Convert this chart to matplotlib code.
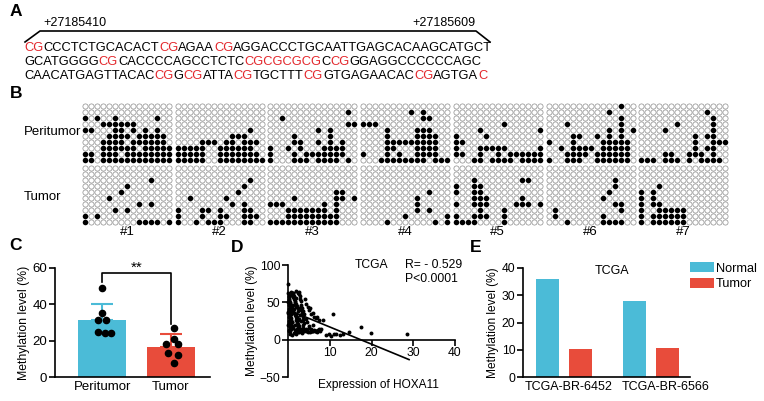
import numpy as np
import matplotlib.pyplot as plt

plt.rcParams['font.family'] = ['Liberation Sans', 'DejaVu Sans']
plt.rcParams['font.size'] = 9

BLUE = '#4bbbd7'
RED = '#e84c3b'
CPG_RED = '#e3262b'

# ---- A: sequence (lower case = CpG, drawn red)
seq_lines = [
    'cgCCCTCTGCACACTcgAGAAcgAGGACCCTGCAATTGAGCACAAGCATGCT',
    'GCATGGGGcgCACCCCAGCCTCTCcgcgcgcgCcgGGAGGCCCCCCAGC',
    'CAACATGAGTTACACcgGcgATTAcgTGCTTTcgGTGAGAACACcgAGTGAc',
]
pos_start = '+27185410'
pos_end = '+27185609'

# ---- B: bisulfite clones, x = methylated CpG
P1 = ['...............', '...............', 'x.x..x......x..', '...xxxxxx......', 'xx...xx.x.x.x..',
      '....xxxx.xxxxx.', '...xxxx.xxxxxx.', '...xxxxxx.xxxxx', 'xx.xxx.xxxxxxxx', 'xx.xxxxxxxxxxxx']
T1 = ['...............', '...............', '...........x...', '.......x.......', '......x........',
      '....x..........', '.........x.x...', '.....x.x.......', 'x.x............', 'x........xxxx.x']
P2 = ['...............', '...............', '...............', '...............', '............x..',
      '.........xxx...', '....xxx.xx.xxx.', 'xxxxx..xxxxxx..', 'xxxxx..xxxxxxx.', 'xxxxx..xxxxxxxx']
T2 = ['...............', '...............', '............x..', '...........x...', '..........x....',
      '..x.....x......', '.........x.x...', 'x...xx.x...xx..', 'x...x..xx..xxx.', 'x..x.xxx...xx..']
P3 = ['...............', '.............x.', '..x............', '.............xx', '........x.x....',
      '....x.....x....', '....xx..x.x.x..', 'x..x.x...xxxx..', 'x...x.xxxxxxx..', 'x...xxx.xxxx.x.']
T3 = ['...............', '...............', '...............', '...............', '...........xx..',
      '....x......xx.x', 'xxx......x.x...', '...xxxxxxx.x...', '...xxxxxxxxx...', 'xxxxxxxxxxxx...']
P4 = ['...............', '........x.x....', '..........xx...', 'xxx............', '....x....xxx...',
      '....x....xxxx..', '....xxxxxxxxx..', '....xx...xxxx..', 'x...x.x..xxxx..', '...xxxxxxxx.xxx']
T4 = ['...............', '...............', '...............', '...............', '...........x...',
      '.........x.....', '.........x.....', '.........x.x...', '.......x......x', '....x.......x.x']
P5 = ['...............', '...............', '...............', '........x......', '....x.........x',
      'x....x.........', 'xx.............', 'x...xxxxx.....x', 'xx..x..x.xxxxxx', '...xx.xxxx.xxxx']
T5 = ['...............', '...............', '...x.......xx..', 'x..xx..........', 'x..xx..........',
      '...xxx.....x...', 'x..xxx....xxx.x', '....x...x......', 'x..xxx..x......', 'xxxx....x......']
P6 = ['............x..', '..........x....', '............x..', '...x........x..', '..........x.x.x',
      '....xx..x.x.x..', 'x...x....xxxxx.', '..x.xxxx.xxxxx.', '...xxxx.xxxxxx.', 'x..xxx..xxxxxx.']
T6 = ['...............', '...............', '...........x...', '...........x...', '..........x....',
      '.........x.....', '...........xx..', '.x..........x..', '.x.......x.....', '...x.....xxxx..']
P7 = ['...............', '...........x...', '............x..', '......x.....x..', '....x.......x..',
      '.........x.xx..', '.........x..xxx', '.........x.xx..', '....xx..xxx.x..', 'xxx.xxx.x.xxxx.']
T7 = ['...............', '...............', '...............', '...x...........', 'x.x............',
      'x.x............', 'x.xx...........', 'x..xxxxx.......', 'x.xxxxxx.......', 'x.xxxxxx.......']
peritumor_clones = [P1, P2, P3, P4, P5, P6, P7]
tumor_clones = [T1, T2, T3, T4, T5, T6, T7]
sample_labels = ['#1', '#2', '#3', '#4', '#5', '#6', '#7']

# ---- C
c_groups = ['Peritumor', 'Tumor']
c_peri = [49, 35, 31.5, 31.5, 25, 24, 24]
c_tumor = [27, 21, 18, 18, 13, 12, 7.5]
c_sem = [8.7, 7.0]
jit_peri = [0, 0, -0.06, 0.06, -0.06, 0.04, 0.12]
jit_tumor = [0.05, 0.05, -0.07, 0.1, -0.04, 0.1, 0.05]

# ---- D
d_x = [0.1, 0.2, 0.3, 0.1, 0.4, 0.2, 0.5, 0.3, 0.6, 0.1, 0.7, 0.4, 0.2, 0.8, 0.5, 0.3, 0.9, 0.6, 0.1, 0.4,
       0.7, 0.2, 0.5, 0.8, 0.3, 0.6, 0.9, 0.1, 0.4, 0.7, 0.2, 0.5, 0.8, 0.3, 0.6, 0.15, 0.45, 0.75, 0.25, 0.55,
       1.1, 1.3, 1.5, 1.7, 1.9, 2.1, 2.3, 1.2, 1.4, 1.6, 1.8, 2.0, 2.2, 2.4, 1.0, 1.3, 1.6, 1.9, 2.2, 2.5,
       1.1, 1.4, 1.7, 2.0, 2.3, 1.2, 1.5, 1.8, 2.1, 2.4, 1.0, 1.6, 2.2, 1.3, 1.9,
       2.6, 2.8, 3.0, 3.2, 3.4, 3.6, 3.8, 2.7, 2.9, 3.1, 3.3, 3.5, 3.7, 3.9, 2.6, 3.0, 3.4, 3.8, 2.8, 3.2,
       3.6, 2.7, 3.1, 3.5, 3.9,
       4.1, 4.4, 4.7, 5.0, 5.3, 5.6, 5.9, 4.2, 4.6, 5.0, 5.4, 5.8, 4.3, 4.8, 5.5,
       6.2, 6.6, 7.0, 7.4, 7.8, 8.3, 6.4, 6.8, 7.2, 7.6, 6.1, 7.0,
       2.2, 2.7, 3.3, 3.9, 4.5, 5.1, 5.7, 6.3, 6.9, 7.4, 2.5, 3.6, 4.4, 5.3, 6.0, 6.7,
       0.5, 1.0, 1.5, 2.0, 2.6, 3.4, 1.8, 2.4,
       9.2, 9.8, 10.4, 11.0, 11.6, 12.4, 13.2, 14.6, 10.8, 17.5, 19.8, 28.6, 0.1]
d_y = [62, 58, 55, 51, 49, 46, 44, 41, 39, 37, 35, 33, 31, 29, 27, 25, 23, 21, 19, 17,
       15, 13, 12, 60, 53, 47, 42, 36, 30, 26, 22, 18, 14, 11, 64, 57, 50, 43, 38, 33,
       60, 57, 54, 51, 48, 45, 42, 39, 36, 33, 30, 27, 24, 21, 18, 15, 13, 12, 14, 17,
       63, 59, 52, 44, 38, 46, 41, 35, 29, 26, 23, 20, 31, 62, 56,
       64, 58, 52, 47, 42, 38, 35, 61, 55, 44, 36, 30, 27, 22, 18, 14, 12, 13, 33, 25,
       19, 28, 40, 16, 11,
       54, 48, 44, 40, 42, 35, 20, 28, 24, 18, 13, 11, 12, 10, 14,
       31, 29, 30, 27, 14, 26, 12, 11, 13, 12, 36, 10,
       12, 14, 11, 13, 12, 15, 11, 13, 12, 14, 10, 11, 14, 10, 12, 11,
       8, 6, 9, 7, 10, 9, 65, 63,
       6, 7, 5, 7, 8, 6, 7, 10, 35, 17, 9, 8, 75]
fit_x = [0, 29]
fit_y = [40, -26.7]

# ---- E
e_samples = ['TCGA-BR-6452', 'TCGA-BR-6566']
e_normal = [36, 28]
e_tumor = [10.3, 10.7]


def style_axes(ax):
    ax.spines['top'].set_visible(False)
    ax.spines['right'].set_visible(False)
    for s in ['left', 'bottom']:
        ax.spines[s].set_linewidth(1.2)
    ax.tick_params(direction='out', length=4, width=1.2, pad=1.5)


fig = plt.figure(figsize=(7.64, 4.01), dpi=100)

ax0 = fig.add_axes([0, 0, 1, 1])
ax0.set_xlim(0, 764)
ax0.set_ylim(401, 0)
ax0.axis('off')

for letter, lx, ly in [('A', 16, 11), ('B', 16, 94), ('C', 16, 246), ('D', 237, 247), ('E', 476, 248)]:
    ax0.text(lx, ly, letter, fontsize=12.5, fontweight='bold', ha='center', va='center')

# A
ax0.plot([25, 40, 476, 490], [42, 31, 31, 42], color='k', lw=1.2)
ax0.text(43, 23, pos_start, fontsize=9, ha='left', va='center')
ax0.text(475, 23, pos_end, fontsize=9, ha='right', va='center')
for line, ly in zip(seq_lines, [48, 62, 76]):
    segs = []
    for ch in line:
        red = ch.islower()
        if segs and segs[-1][1] == red:
            segs[-1][0] += ch.upper()
        else:
            segs.append([ch.upper(), red])
    t = ax0.text(24, ly, segs[0][0], fontsize=9.25, va='center', ha='left',
                 color=CPG_RED if segs[0][1] else 'k')
    for s, red in segs[1:]:
        t = ax0.annotate(s, xy=(1, 0), xycoords=t, va='bottom', ha='left', fontsize=9.25,
                         color=CPG_RED if red else 'k')

# B
ex, ey, fx, fy = [], [], [], []
for i in range(7):
    x0 = 82 + 92.7 * i
    for clones, top in [(peritumor_clones[i], 103), (tumor_clones[i], 165)]:
        for r, row in enumerate(clones):
            for c, ch in enumerate(row):
                px, py = x0 + 3 + 6 * c, top + 3 + 6 * r
                if ch == 'x':
                    fx.append(px); fy.append(py)
                else:
                    ex.append(px); ey.append(py)
    ax0.text(x0 + 45, 232, sample_labels[i], fontsize=9.5, ha='center', va='center')
ax0.scatter(ex, ey, s=14, facecolor='white', edgecolor='#8c8c8c', linewidths=0.5)
ax0.scatter(fx, fy, s=16, color='k', linewidths=0)
ax0.text(24, 132, 'Peritumor', fontsize=9.5, va='center')
ax0.text(24, 197, 'Tumor', fontsize=9.5, va='center')

# C
axc = fig.add_axes([55 / 764, 24 / 401, 155 / 764, 109 / 401])
means = [np.mean(c_peri), np.mean(c_tumor)]
axc.bar([0, 1], means, width=0.7, color=[BLUE, RED], zorder=1)
for xi, m, e, col in zip([0, 1], means, c_sem, [BLUE, RED]):
    axc.errorbar(xi, m, yerr=[[0], [e]], color=col, capsize=8, lw=1.5, capthick=1.5, zorder=2)
axc.scatter(np.array(jit_peri), c_peri, s=20, color='k', zorder=3)
axc.scatter(1 + np.array(jit_tumor), c_tumor, s=20, color='k', zorder=3)
axc.plot([0, 0, 1, 1], [52.5, 57, 57, 29], color='k', lw=1.2, clip_on=False)
axc.text(0.5, 56.5, '**', ha='center', va='bottom', fontsize=11)
axc.set_xlim(-0.69, 1.57)
axc.set_ylim(0, 60)
axc.set_yticks([0, 20, 40, 60])
axc.set_xticks([0, 1], c_groups)
style_axes(axc)
axc.tick_params(axis='both', labelsize=9.5)
axc.tick_params(axis='x', length=0, pad=3)
axc.set_ylabel('Methylation level (%)', fontsize=8.8, labelpad=2)

# D
axd = fig.add_axes([288 / 764, 24 / 401, 167 / 764, 112 / 401])
axd.scatter(d_x, d_y, s=8, color='k', linewidths=0, clip_on=False)
axd.plot(fit_x, fit_y, color='k', lw=1.2)
axd.set_xlim(0, 40)
axd.set_ylim(-50, 100)
axd.spines['bottom'].set_position(('data', 0))
axd.set_xticks([10, 20, 30, 40])
axd.set_yticks([-50, 0, 50, 100])
style_axes(axd)
axd.tick_params(axis='both', labelsize=8.7)
axd.set_ylabel('Methylation level (%)', fontsize=8.6, labelpad=1)
axd.set_xlabel('Expression of HOXA11', fontsize=8.6)
axd.xaxis.set_label_coords(0.54, -0.02)
axd.text(16, 100, 'TCGA', va='center', ha='left', fontsize=8.7)
axd.text(28, 100, 'R= - 0.529', va='center', ha='left', fontsize=8.7)
axd.text(28, 81, 'P<0.0001', va='center', ha='left', fontsize=8.7)

# E
axe = fig.add_axes([523 / 764, 24 / 401, 167 / 764, 109 / 401])
pos = np.arange(len(e_samples))
axe.bar(pos - 0.19, e_normal, 0.26, color=BLUE, label='Normal')
axe.bar(pos + 0.19, e_tumor, 0.26, color=RED, label='Tumor')
axe.set_xlim(-0.468, 1.447)
axe.set_ylim(0, 40)
axe.set_yticks([0, 10, 20, 30, 40])
axe.set_xticks([0.05, 1.17], e_samples)
style_axes(axe)
axe.tick_params(axis='y', labelsize=8.7)
axe.tick_params(axis='x', length=0, pad=3, labelsize=9)
axe.set_ylabel('Methylation level (%)', fontsize=8.6, labelpad=2)
axe.text(0.55, 39, 'TCGA', ha='center', va='center')
axe.legend(loc='upper left', bbox_to_anchor=(690 / 764, (401 - 262) / 401), bbox_transform=fig.transFigure,
           frameon=False, borderpad=0, borderaxespad=0, handlelength=1.85, handleheight=0.88,
           handletextpad=0.15, labelspacing=0.25, fontsize=9.2)

fig.savefig('out.png', dpi=100)
